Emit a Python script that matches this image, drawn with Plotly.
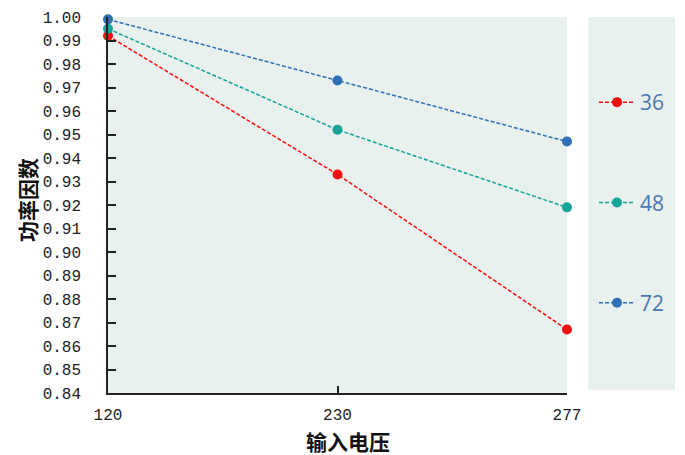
import plotly.graph_objects as go

voltages = ["120", "230", "277"]
series_names = ["36", "48", "72"]
pf_36 = [0.992, 0.933, 0.867]
pf_48 = [0.995, 0.952, 0.919]
pf_72 = [0.999, 0.973, 0.947]
y_ticks = [0.84, 0.85, 0.86, 0.87, 0.88, 0.89, 0.90, 0.91, 0.92, 0.93, 0.94, 0.95, 0.96, 0.97, 0.98, 0.99, 1.00]
x_title = "输入电压"
y_title = "功率因数"

colors = ["#f01010", "#17a398", "#2e6fb5"]
values = [pf_36, pf_48, pf_72]

fig = go.Figure()
for name, vals, c in zip(series_names, values, colors):
    fig.add_trace(go.Scatter(
        x=voltages, y=vals, name=name, legendgroup=name,
        mode="lines+markers",
        line=dict(color=c, width=1.5, dash="4px,2px"),
        marker=dict(color=c, size=10),
        cliponaxis=False,
    ))

# page body has an 8px margin; compensate so the plot lands where the reference has it
OFF = 8
W, H = 685 - OFF, 455 - OFF
L, R, T, B = 108 - OFF, 567 - OFF, 17 - OFF, 393 - OFF
PW, PH = R - L, B - T
fig.update_layout(
    width=W, height=H,
    margin=dict(l=L, r=W - R, t=T, b=H - B, pad=0, autoexpand=False),
    paper_bgcolor="white",
    plot_bgcolor="#e8f1ee",
    showlegend=True,
    legend=dict(
        x=(594 - OFF - L) / PW, xanchor="left",
        y=1 - (82 - OFF - T) / PH, yanchor="top",
        bgcolor="rgba(0,0,0,0)",
        font=dict(family="Open Sans, Noto Sans", size=21, color="#4a78b0"),
        tracegroupgap=70,
        itemwidth=36,
    ),
    xaxis=dict(
        type="category", range=[0, 2], automargin=False,
        showgrid=False, zeroline=False,
        showline=True, linecolor="#222", linewidth=1.5,
        ticks="inside", ticklen=7, tickcolor="#222", tickwidth=1.5,
        tickfont=dict(family="Liberation Mono, DejaVu Sans Mono", size=16, color="#222"),
        ticklabelstandoff=6,
    ),
    yaxis=dict(
        range=[0.84, 1.00], automargin=False,
        tickvals=y_ticks,
        ticktext=["%.2f" % v for v in y_ticks],
        showgrid=False, zeroline=False,
        showline=True, linecolor="#222", linewidth=1.5,
        ticks="inside", ticklen=8, tickcolor="#222", tickwidth=1.5,
        tickfont=dict(family="Liberation Mono, DejaVu Sans Mono", size=16, color="#222"),
        ticklabelstandoff=22,
    ),
    annotations=[
        dict(text=x_title, xref="paper", yref="paper",
             x=(348 - OFF - L) / PW, y=(B - (441 - OFF)) / PH,
             xanchor="center", yanchor="middle", showarrow=False,
             font=dict(family="Noto Sans CJK SC", size=21, color="#111", weight="bold")),
        dict(text=y_title, xref="paper", yref="paper", textangle=-90,
             x=(27 - OFF - L) / PW, y=(B - (200 - OFF)) / PH,
             xanchor="center", yanchor="middle", showarrow=False,
             font=dict(family="Noto Sans CJK SC", size=21, color="#111", weight="bold")),
    ],
    shapes=[dict(
        type="rect", xref="paper", yref="paper",
        x0=(588 - OFF - L) / PW, x1=(675 - OFF - L) / PW,
        y0=(B - (390 - OFF)) / PH, y1=1.0,
        fillcolor="#e8f1ee", line=dict(width=0), layer="below",
    )],
)

fig.write_html("out.html")
